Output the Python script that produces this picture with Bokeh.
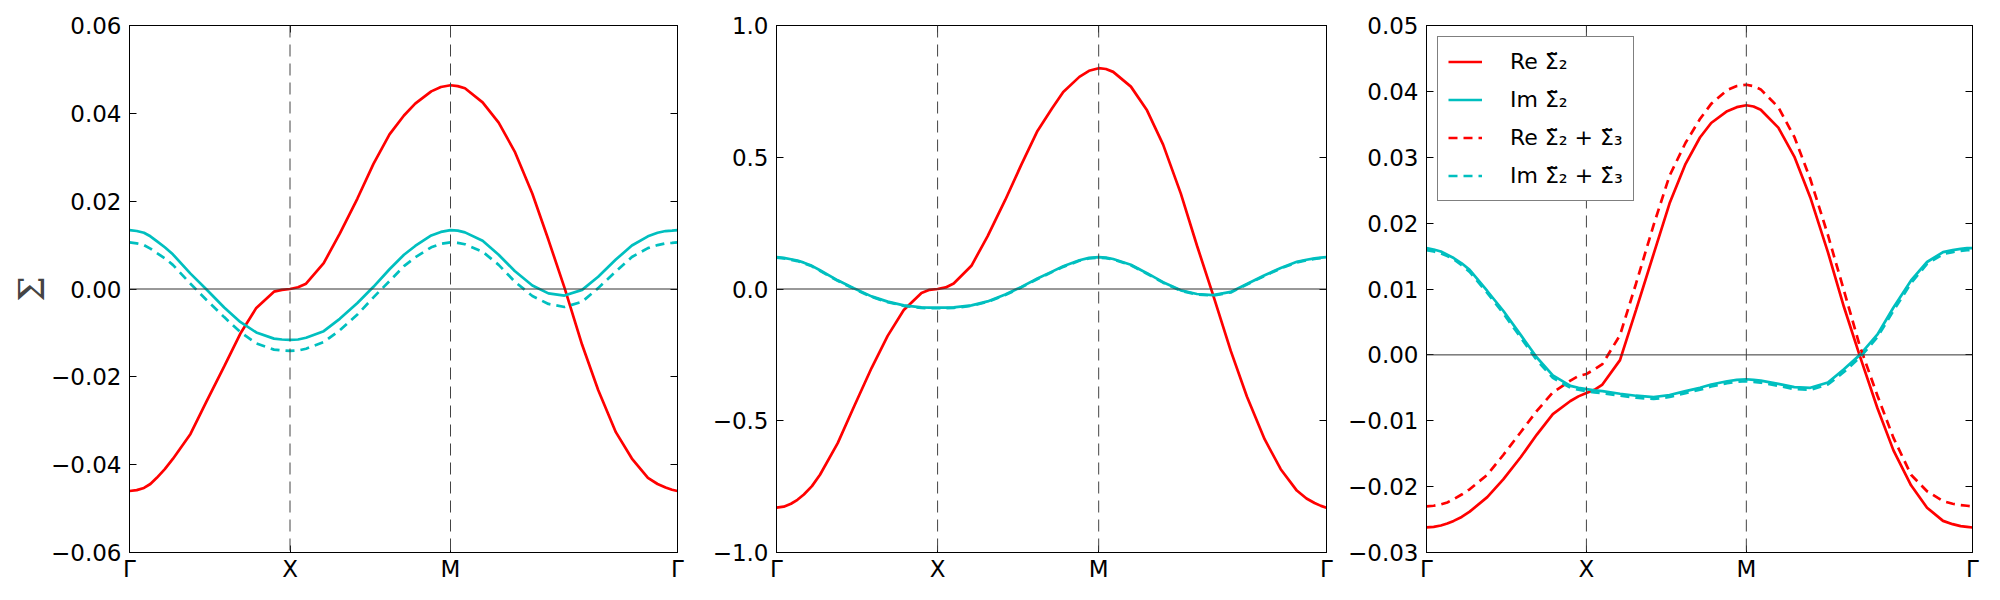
import numpy as np
from bokeh.plotting import figure
from bokeh.models import FixedTicker, LinearAxis, Span, Range1d
from bokeh.layouts import row
from bokeh.embed import file_html
from bokeh.resources import INLINE

# path nodes Γ - X - M - Γ (path lengths 1, 1, sqrt 2)
nodes = [0.0, 1.0, 2.0, 2.0 + np.sqrt(2.0)]
node_labels = ["Γ", "X", "M", "Γ"]

k = [0, 0.045, 0.09, 0.13, 0.17, 0.22, 0.27, 0.38, 0.48, 0.59, 0.69, 0.79, 0.90, 0.95, 1.00,
     1.05, 1.10, 1.21, 1.31, 1.42, 1.52, 1.62, 1.71, 1.78, 1.88, 1.94, 2.00, 2.045, 2.09, 2.20,
     2.30, 2.40, 2.51, 2.61, 2.71, 2.82, 2.92, 3.03, 3.13, 3.23, 3.29, 3.34, 3.38, 3.414]

# panel 1
p1_re2 = [-0.0460, -0.0458, -0.0453, -0.0444, -0.0430, -0.0410, -0.0387, -0.0330, -0.0256, -0.0176,
          -0.0102, -0.0043, -0.0006, -0.0002, 0.0000, 0.0004, 0.0012, 0.0059, 0.0126, 0.0206,
          0.0285, 0.0352, 0.0395, 0.0422, 0.0450, 0.0460, 0.0464, 0.0462, 0.0457, 0.0425,
          0.0379, 0.0313, 0.0217, 0.0112, 0.0003, -0.0127, -0.0230, -0.0326, -0.0386, -0.0430,
          -0.0444, -0.0452, -0.0457, -0.0460]
p1_im2 = [0.0134, 0.0132, 0.0128, 0.0120, 0.0109, 0.0095, 0.0079, 0.0035, -0.0001, -0.0042,
          -0.0075, -0.0099, -0.0113, -0.0115, -0.0116, -0.0115, -0.0111, -0.0096, -0.0068, -0.0032,
          0.0005, 0.0045, 0.0078, 0.0098, 0.0122, 0.0130, 0.0134, 0.0133, 0.0129, 0.0110,
          0.0078, 0.0041, 0.0008, -0.0010, -0.0015, -0.0002, 0.0028, 0.0067, 0.0099, 0.0120,
          0.0128, 0.0132, 0.0133, 0.0134]
p1_im23 = [0.0106, 0.0104, 0.0100, 0.0092, 0.0082, 0.0070, 0.0055, 0.0012, -0.0025, -0.0064,
           -0.0098, -0.0124, -0.0138, -0.0140, -0.0141, -0.0140, -0.0136, -0.0121, -0.0094, -0.0058,
           -0.0019, 0.0018, 0.0052, 0.0072, 0.0095, 0.0103, 0.0106, 0.0105, 0.0102, 0.0085,
           0.0055, 0.0017, -0.0016, -0.0034, -0.0041, -0.0029, 0.0002, 0.0040, 0.0073, 0.0093,
           0.0100, 0.0104, 0.0105, 0.0106]

# panel 2
p2_re2 = [-0.830, -0.826, -0.815, -0.800, -0.780, -0.748, -0.705, -0.585, -0.448, -0.300,
          -0.178, -0.080, -0.015, -0.003, 0.000, 0.006, 0.021, 0.088, 0.200, 0.338,
          0.472, 0.600, 0.685, 0.748, 0.805, 0.828, 0.838, 0.835, 0.824, 0.768,
          0.678, 0.548, 0.362, 0.165, -0.022, -0.235, -0.408, -0.570, -0.684, -0.765,
          -0.795, -0.812, -0.823, -0.830]
p2_im2 = [0.121, 0.118, 0.113, 0.108, 0.100, 0.088, 0.071, 0.033, 0.003, -0.028,
          -0.048, -0.062, -0.070, -0.071, -0.071, -0.071, -0.070, -0.062, -0.047, -0.021,
          0.008, 0.040, 0.066, 0.086, 0.109, 0.118, 0.121, 0.119, 0.114, 0.092,
          0.060, 0.026, -0.005, -0.019, -0.023, -0.011, 0.019, 0.052, 0.080, 0.103,
          0.111, 0.116, 0.119, 0.121]
p2_im23 = [0.119, 0.116, 0.111, 0.106, 0.098, 0.086, 0.069, 0.031, 0.001, -0.030,
           -0.050, -0.064, -0.072, -0.073, -0.073, -0.073, -0.072, -0.064, -0.049, -0.023,
           0.006, 0.038, 0.064, 0.084, 0.107, 0.116, 0.119, 0.117, 0.112, 0.090,
           0.058, 0.024, -0.007, -0.021, -0.025, -0.013, 0.017, 0.050, 0.078, 0.101,
           0.109, 0.114, 0.117, 0.119]

# panel 3
p3_re2 = [-0.0262, -0.0261, -0.0259, -0.0256, -0.0252, -0.0246, -0.0238, -0.0216, -0.0189, -0.0155,
          -0.0121, -0.0090, -0.0070, -0.0063, -0.0058, -0.0053, -0.0045, -0.0008, 0.0068, 0.0153,
          0.0230, 0.0290, 0.0330, 0.0352, 0.0370, 0.0376, 0.0379, 0.0377, 0.0372, 0.0345,
          0.0301, 0.0239, 0.0156, 0.0073, -0.0002, -0.0081, -0.0145, -0.0198, -0.0232, -0.0252,
          -0.0257, -0.0260, -0.0261, -0.0262]
p3_im2 = [0.0162, 0.0160, 0.0157, 0.0152, 0.0147, 0.0139, 0.0129, 0.0097, 0.0067, 0.0030,
          -0.0004, -0.0031, -0.0047, -0.0050, -0.0052, -0.0054, -0.0055, -0.0059, -0.0062, -0.0064,
          -0.0061, -0.0055, -0.0050, -0.0045, -0.0040, -0.0038, -0.0037, -0.0038, -0.0039, -0.0044,
          -0.0049, -0.0050, -0.0042, -0.0022, 0.0000, 0.0031, 0.0072, 0.0113, 0.0141, 0.0156,
          0.0159, 0.0161, 0.0162, 0.0162]
p3_re23 = [-0.0230, -0.0229, -0.0227, -0.0224, -0.0219, -0.0212, -0.0204, -0.0182, -0.0152, -0.0117,
           -0.0085, -0.0057, -0.0039, -0.0032, -0.0029, -0.0022, -0.0014, 0.0030, 0.0108, 0.0197,
           0.0272, 0.0322, 0.0358, 0.0381, 0.0402, 0.0408, 0.0410, 0.0408, 0.0403, 0.0376,
           0.0331, 0.0267, 0.0182, 0.0098, 0.0013, -0.0062, -0.0126, -0.0182, -0.0207, -0.0222,
           -0.0226, -0.0228, -0.0229, -0.0230]
p3_im23 = [0.0159, 0.0157, 0.0154, 0.0150, 0.0145, 0.0136, 0.0126, 0.0094, 0.0063, 0.0026,
           -0.0008, -0.0035, -0.0050, -0.0053, -0.0055, -0.0057, -0.0058, -0.0062, -0.0065, -0.0067,
           -0.0064, -0.0058, -0.0053, -0.0048, -0.0043, -0.0041, -0.0040, -0.0041, -0.0042, -0.0047,
           -0.0052, -0.0053, -0.0045, -0.0026, -0.0004, 0.0027, 0.0067, 0.0109, 0.0138, 0.0153,
           0.0156, 0.0158, 0.0159, 0.0159]

p1_yticks = [-0.06, -0.04, -0.02, 0.0, 0.02, 0.04, 0.06]
p1_ylabels = ["−0.06", "−0.04", "−0.02", "0.00", "0.02", "0.04", "0.06"]
p2_yticks = [-1.0, -0.5, 0.0, 0.5, 1.0]
p2_ylabels = ["−1.0", "−0.5", "0.0", "0.5", "1.0"]
p3_yticks = [-0.03, -0.02, -0.01, 0.0, 0.01, 0.02, 0.03, 0.04, 0.05]
p3_ylabels = ["−0.03", "−0.02", "−0.01", "0.00", "0.01", "0.02", "0.03", "0.04", "0.05"]

labels = ["Re Σ̃₂", "Im Σ̃₂", "Re Σ̃₂ + Σ̃₃", "Im Σ̃₂ + Σ̃₃"]

RED = "#ff0000"
CYAN = "#00bfbf"
FONT = "DejaVu Sans"
FS = "23px"
LW = 2.7


def make_panel(width, left, right, yr, yticks, ylabels, ylabel=None):
    p = figure(width=width, height=590, x_range=Range1d(nodes[0], nodes[-1]),
               y_range=Range1d(*yr), output_backend="svg", toolbar_location=None,
               min_border_left=left, min_border_right=right, min_border_top=25,
               min_border_bottom=38)
    p.xgrid.visible = False
    p.ygrid.visible = False
    p.outline_line_color = "black"
    p.outline_line_width = 1
    p.background_fill_color = "white"
    p.border_fill_color = "white"

    xa = p.xaxis[0]
    xa.ticker = FixedTicker(ticks=nodes)
    xa.major_label_overrides = {float(t): l for t, l in zip(nodes, node_labels)}
    ya = p.yaxis[0]
    ya.ticker = FixedTicker(ticks=yticks)
    ya.major_label_overrides = {float(t): l for t, l in zip(yticks, ylabels)}
    for ax in (xa, ya):
        ax.major_tick_in = 7
        ax.major_tick_out = 0
        ax.minor_tick_in = 0
        ax.minor_tick_out = 0
        ax.axis_line_color = "black"
        ax.major_tick_line_color = "black"
        ax.major_label_text_font = FONT
        ax.major_label_text_font_size = FS
        ax.major_label_text_color = "black"
    xa.major_label_standoff = 3
    ya.major_label_standoff = 8
    if ylabel:
        ya.axis_label = ylabel
        ya.axis_label_text_font = "DejaVu Serif"
        ya.axis_label_text_font_style = "normal"
        ya.axis_label_text_font_size = "36px"
        ya.axis_label_standoff = -4

    ra = LinearAxis(ticker=FixedTicker(ticks=yticks), major_label_text_font_size="0px",
                    major_label_text_color=None,
                    major_tick_in=7, major_tick_out=0, minor_tick_in=0, minor_tick_out=0,
                    axis_line_color="black", major_label_standoff=0)
    ta = LinearAxis(ticker=FixedTicker(ticks=nodes), major_label_text_font_size="0px",
                    major_label_text_color=None,
                    major_tick_in=7, major_tick_out=0, minor_tick_in=0, minor_tick_out=0,
                    axis_line_color="black", major_label_standoff=0)
    p.add_layout(ra, "right")
    p.add_layout(ta, "above")

    p.add_layout(Span(location=0.0, dimension="width", line_color="#333333", line_width=1))
    for n in nodes[1:3]:
        p.add_layout(Span(location=n, dimension="height", line_color="#444444",
                          line_width=1, line_dash="12 7"))
    return p


p1 = make_panel(696, 129, 19, (-0.06, 0.06), p1_yticks, p1_ylabels, ylabel="Σ")
p1.line(k, p1_re2, color=RED, line_width=LW)
p1.line(k, p1_im2, color=CYAN, line_width=LW)
p1.line(k, p1_im23, color=CYAN, line_width=LW, line_dash="9 6")

p2 = make_panel(649, 80, 19, (-1.0, 1.0), p2_yticks, p2_ylabels)
p2.line(k, p2_re2, color=RED, line_width=LW)
p2.line(k, p2_im2, color=CYAN, line_width=LW)
p2.line(k, p2_im23, color=CYAN, line_width=LW, line_dash="9 6")

p3 = make_panel(645, 79, 18, (-0.03, 0.05), p3_yticks, p3_ylabels)
p3.line(k, p3_re2, color=RED, line_width=LW, legend_label=labels[0])
p3.line(k, p3_im2, color=CYAN, line_width=LW, legend_label=labels[1])
p3.line(k, p3_re23, color=RED, line_width=LW, line_dash="9 6", legend_label=labels[2])
p3.line(k, p3_im23, color=CYAN, line_width=LW, line_dash="9 6", legend_label=labels[3])

lg = p3.legend[0]
lg.location = (11, 351)
lg.margin = 0
lg.padding = 10
lg.spacing = 9
lg.glyph_width = 34
lg.glyph_height = 29
lg.label_standoff = 28
lg.label_text_font = FONT
lg.label_text_font_size = "22px"
lg.label_text_color = "black"
lg.border_line_color = "black"
lg.border_line_width = 1
lg.background_fill_color = "white"
lg.background_fill_alpha = 1.0

layout = row(p1, p2, p3)
open("out.html", "w").write(file_html(layout, INLINE))
